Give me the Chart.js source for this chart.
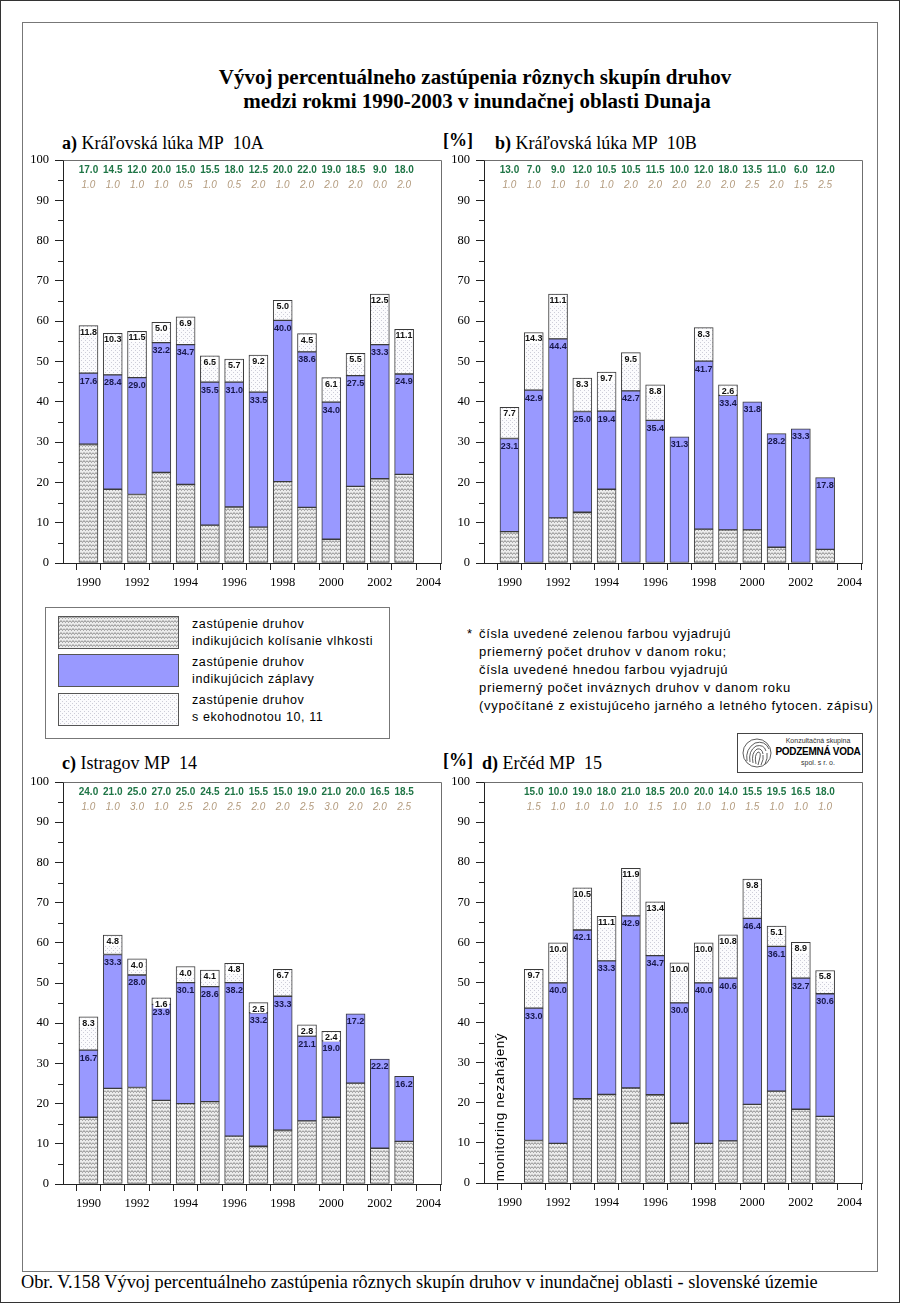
<!DOCTYPE html>
<html>
<head>
<meta charset="utf-8">
<script src="https://cdn.jsdelivr.net/npm/chart.js@4/dist/chart.umd.min.js"></script>
<style>
  body { margin: 0; background: #fff; }
  #page { position: relative; width: 900px; height: 1303px; background: #fff; overflow: hidden; }
  .abs { position: absolute; }
  .serif { font-family: "Liberation Serif", "Times New Roman", serif; color: #000; }
  .sans { font-family: "Liberation Sans", Arial, sans-serif; color: #000; }
  canvas.chart { position: absolute; }
  .lg-text { font-size: 12.5px; letter-spacing: 0.6px; line-height: 17px; }
  .note { font-size: 13px; letter-spacing: 0.7px; line-height: 18px; }
</style>
</head>
<body>
<div id="page">
  <div class="abs" style="left:0;top:0;width:898px;height:1301px;border:1px solid #333;"></div>
  <div class="abs" style="left:22px;top:22px;width:854px;height:1248px;border:1px solid #777;"></div>

  <div class="abs serif" style="left:125px;top:63px;width:700px;text-align:center;font-weight:bold;font-size:21px;line-height:28px;">Vývoj percentuálneho zastúpenia rôznych skupín druhov</div>
  <div class="abs serif" style="left:127px;top:87px;width:700px;text-align:center;font-weight:bold;font-size:21px;line-height:28px;">medzi rokmi 1990-2003 v inundačnej oblasti Dunaja</div>

  <div class="abs serif" style="left:62px;top:132px;font-size:18px;line-height:22px;white-space:nowrap;"><b>a)</b> Kráľovská lúka MP&nbsp; 10A</div>
  <div class="abs serif" style="left:443px;top:129px;font-size:18px;line-height:22px;font-weight:bold;">[%]</div>
  <div class="abs serif" style="left:495px;top:132px;font-size:18px;line-height:22px;white-space:nowrap;"><b>b)</b> Kráľovská lúka MP&nbsp; 10B</div>

  <div class="abs serif" style="left:62px;top:752px;font-size:18px;line-height:22px;white-space:nowrap;"><b>c)</b> Istragov MP&nbsp; 14</div>
  <div class="abs serif" style="left:443px;top:749px;font-size:18px;line-height:22px;font-weight:bold;">[%]</div>
  <div class="abs serif" style="left:482px;top:752px;font-size:18px;line-height:22px;white-space:nowrap;"><b>d)</b> Erčéd MP&nbsp; 15</div>

  <canvas id="chartA" class="chart"></canvas>
  <canvas id="chartB" class="chart"></canvas>
  <canvas id="chartC" class="chart"></canvas>
  <canvas id="chartD" class="chart"></canvas>

  <!-- legend box -->
  <div class="abs" style="left:45px;top:607px;width:343px;height:130px;border:1px solid #777;background:#fff;"></div>
  <canvas id="sw1" class="abs" width="121" height="33" style="left:58px;top:616px;"></canvas>
  <canvas id="sw2" class="abs" width="121" height="33" style="left:58px;top:654px;"></canvas>
  <canvas id="sw3" class="abs" width="121" height="33" style="left:58px;top:693px;"></canvas>
  <div class="abs sans lg-text" style="left:192px;top:616px;white-space:nowrap;">zastúpenie druhov<br>indikujúcich kolísanie vlhkosti</div>
  <div class="abs sans lg-text" style="left:192px;top:654px;white-space:nowrap;">zastúpenie druhov<br>indikujúcich záplavy</div>
  <div class="abs sans lg-text" style="left:192px;top:692px;white-space:nowrap;">zastúpenie druhov<br>s ekohodnotou 10, 11</div>

  <div class="abs sans note" style="left:467px;top:625px;">*</div>
  <div class="abs sans note" style="left:479px;top:625px;white-space:nowrap;">čísla uvedené zelenou farbou vyjadrujú<br>priemerný počet druhov v danom roku;<br>čísla uvedené hnedou farbou vyjadrujú<br>priemerný počet inváznych druhov v danom roku<br>(vypočítané z existujúceho jarného a letného fytocen. zápisu)</div>

  <!-- logo -->
  <div class="abs" style="left:737px;top:733px;width:124px;height:38px;border:1px solid #444;background:#fff;">
    <svg class="abs" style="left:3px;top:3px;" width="32" height="32" viewBox="0 0 32 32">
      <g fill="none" stroke="#333" stroke-width="0.8">
        <circle cx="16" cy="16" r="14"/>
        <path d="M6 24 Q4 12 14 6 Q24 3 28 12"/>
        <path d="M9 25 Q7 14 15 9 Q23 7 25 14"/>
        <path d="M12 26 Q10 16 16 12 Q21 11 22 17"/>
        <path d="M15 27 Q13 18 17 15 Q20 15 19 20 L17 28"/>
        <path d="M20 28 Q23 22 22 18"/>
        <path d="M24 27 Q27 21 26 16"/>
      </g>
    </svg>
    <div class="abs sans" style="left:36px;top:3px;width:88px;text-align:center;font-size:7px;line-height:8px;color:#333;">Konzultačná skupina</div>
    <div class="abs sans" style="left:35px;top:12px;width:90px;text-align:center;font-size:10px;line-height:12px;font-weight:bold;letter-spacing:-0.3px;">PODZEMNÁ VODA</div>
    <div class="abs sans" style="left:36px;top:25px;width:88px;text-align:center;font-size:7px;line-height:8px;color:#333;">spol. s r. o.</div>
  </div>

  <div class="abs sans" style="left:425px;top:1099px;width:150px;height:16px;text-align:center;font-size:13.5px;line-height:16px;letter-spacing:0.6px;transform:rotate(-90deg);">monitoring nezahájený</div>

  <div class="abs serif" style="left:21px;top:1271px;font-size:18.3px;line-height:22px;white-space:nowrap;">Obr. V.158 Vývoj percentuálneho zastúpenia rôznych skupín druhov v inundačnej oblasti - slovenské územie</div>
</div>

<script>
// years on the x axis
const years = [1990, 1991, 1992, 1993, 1994, 1995, 1996, 1997, 1998, 1999, 2000, 2001, 2002, 2003];
const tickYears = [1990, 1991, 1992, 1993, 1994, 1995, 1996, 1997, 1998, 1999, 2000, 2001, 2002, 2003, 2004];

// a) Kralovska luka MP 10A
const aBottom = [29.5, 18.3, 17.0, 22.5, 19.5, 9.4, 13.9, 8.9, 20.2, 13.8, 5.9, 19.0, 20.9, 22.0];
const aMiddle = [17.6, 28.4, 29.0, 32.2, 34.7, 35.5, 31.0, 33.5, 40.0, 38.6, 34.0, 27.5, 33.3, 24.9];
const aTop = [11.8, 10.3, 11.5, 5.0, 6.9, 6.5, 5.7, 9.2, 5.0, 4.5, 6.1, 5.5, 12.5, 11.1];
const aSpecies = [17.0, 14.5, 12.0, 20.0, 15.0, 15.5, 18.0, 12.5, 20.0, 22.0, 19.0, 18.5, 9.0, 18.0];
const aInvasive = [1.0, 1.0, 1.0, 1.0, 0.5, 1.0, 0.5, 2.0, 1.0, 2.0, 2.0, 2.0, 0.0, 2.0];

// b) Kralovska luka MP 10B
const bBottom = [7.8, 0, 11.2, 12.6, 18.3, 0, 0, 0, 8.4, 8.2, 8.2, 3.9, 0, 3.4];
const bMiddle = [23.1, 42.9, 44.4, 25.0, 19.4, 42.7, 35.4, 31.3, 41.7, 33.4, 31.8, 28.2, 33.3, 17.8];
const bTop = [7.7, 14.3, 11.1, 8.3, 9.7, 9.5, 8.8, 0, 8.3, 2.6, 0, 0, 0, 0];
const bSpecies = [13.0, 7.0, 9.0, 12.0, 10.5, 10.5, 11.5, 10.0, 12.0, 18.0, 13.5, 11.0, 6.0, 12.0];
const bInvasive = [1.0, 1.0, 1.0, 1.0, 1.0, 2.0, 2.0, 2.0, 2.0, 2.0, 2.5, 2.0, 1.5, 2.5];

// c) Istragov MP 14
const cBottom = [16.6, 23.8, 24.0, 20.8, 20.0, 20.5, 11.9, 9.4, 13.4, 15.7, 16.6, 25.1, 8.9, 10.6];
const cMiddle = [16.7, 33.3, 28.0, 23.9, 30.1, 28.6, 38.2, 33.2, 33.3, 21.1, 19.0, 17.2, 22.2, 16.2];
const cTop = [8.3, 4.8, 4.0, 1.6, 4.0, 4.1, 4.8, 2.5, 6.7, 2.8, 2.4, 0, 0, 0];
const cSpecies = [24.0, 21.0, 25.0, 27.0, 25.0, 24.5, 21.0, 15.5, 15.0, 19.0, 21.0, 20.0, 16.5, 18.5];
const cInvasive = [1.0, 1.0, 3.0, 1.0, 2.5, 2.0, 2.5, 2.0, 2.0, 2.5, 3.0, 2.0, 2.0, 2.5];

// d) Ercéd MP 15 (no monitoring in 1990)
const dBottom = [null, 10.6, 9.9, 21.0, 22.1, 23.7, 22.0, 14.9, 9.9, 10.5, 19.6, 22.9, 18.4, 16.6];
const dMiddle = [null, 33.0, 40.0, 42.1, 33.3, 42.9, 34.7, 30.0, 40.0, 40.6, 46.4, 36.1, 32.7, 30.6];
const dTop = [null, 9.7, 10.0, 10.5, 11.1, 11.9, 13.4, 10.0, 10.0, 10.8, 9.8, 5.1, 8.9, 5.8];
const dSpecies = [null, 15.0, 10.0, 19.0, 18.0, 21.0, 18.5, 20.0, 20.0, 14.0, 15.5, 19.5, 16.5, 18.0];
const dInvasive = [null, 1.5, 1.0, 1.0, 1.0, 1.0, 1.5, 1.0, 1.0, 1.0, 1.5, 1.0, 1.0, 1.0];

const blue = '#9999ff';
const greenText = '#1f7546';
const brownText = '#b39b7e';

// fill patterns for the two textured segments
function wavePattern() {
  const c = document.createElement('canvas');
  c.width = 6; c.height = 4;
  const g = c.getContext('2d');
  g.fillStyle = '#ececec';
  g.fillRect(0, 0, 6, 4);
  g.strokeStyle = '#8e8e8e';
  g.lineWidth = 1;
  g.beginPath();
  g.moveTo(0, 0.5); g.lineTo(1.5, 2.5); g.lineTo(3, 0.5); g.lineTo(4.5, 2.5); g.lineTo(6, 0.5);
  g.stroke();
  return g.createPattern(c, 'repeat');
}

function dotPattern() {
  const c = document.createElement('canvas');
  c.width = 4; c.height = 4;
  const g = c.getContext('2d');
  g.fillStyle = '#fbfbfd';
  g.fillRect(0, 0, 4, 4);
  g.fillStyle = '#cdcdd8';
  g.fillRect(0, 0, 1, 1);
  g.fillRect(2, 2, 1, 1);
  return g.createPattern(c, 'repeat');
}

const hatch = wavePattern();
const dots = dotPattern();

function fmt(v) {
  return v.toFixed(1);
}

function toPoints(arr) {
  return years.map((yr, i) => ({ x: yr, y: arr[i] ? arr[i] : null }));
}

// frame, minor ticks, numbers above the bars, segment labels
function panelPlugin(species, invasive) {
  return {
    id: 'panelDecor',
    afterDatasetsDraw(chart) {
      const ctx = chart.ctx;
      const area = chart.chartArea;
      const xs = chart.scales.x;
      const ys = chart.scales.y;
      ctx.save();

      ctx.strokeStyle = '#6f6f6f';
      ctx.lineWidth = 1;
      ctx.beginPath();
      ctx.moveTo(Math.round(area.left) + 0.5, Math.round(area.top) + 0.5);
      ctx.lineTo(Math.round(area.right) + 0.5, Math.round(area.top) + 0.5);
      ctx.lineTo(Math.round(area.right) + 0.5, Math.round(area.bottom) + 0.5);
      ctx.stroke();

      // minor ticks every 5 %
      ctx.strokeStyle = '#222';
      ctx.beginPath();
      [5, 15, 25, 35, 45, 55, 65, 75, 85, 95].forEach(v => {
        const py = Math.round(ys.getPixelForValue(v)) + 0.5;
        ctx.moveTo(area.left - 5, py);
        ctx.lineTo(area.left, py);
      });
      ctx.stroke();

      // average species counts
      ctx.textAlign = 'center';
      ctx.textBaseline = 'middle';
      years.forEach((yr, i) => {
        if (species[i] === null) return;
        const px = xs.getPixelForValue(yr);
        ctx.font = 'bold 10px "Liberation Sans", Arial, sans-serif';
        ctx.fillStyle = greenText;
        ctx.fillText(fmt(species[i]), px, area.top + 10);
        ctx.font = 'italic 10px "Liberation Sans", Arial, sans-serif';
        ctx.fillStyle = brownText;
        ctx.fillText(fmt(invasive[i]), px, area.top + 25.5);
      });

      // values written in the segments
      ctx.font = 'bold 9px "Liberation Sans", Arial, sans-serif';
      [1, 2].forEach(d => {
        const meta = chart.getDatasetMeta(d);
        const ds = chart.data.datasets[d];
        meta.data.forEach((bar, i) => {
          const v = ds.data[i].y;
          if (!v) return;
          if (d === 2) {
            ctx.fillStyle = '#fff';
            ctx.fillRect(bar.x - bar.width / 2 + 1.5, bar.y + 1.5, bar.width - 3, 9);
            ctx.fillStyle = '#111';
            ctx.fillText(fmt(v), bar.x, bar.y + 6.5);
          } else {
            ctx.fillStyle = '#17174a';
            ctx.fillText(fmt(v), bar.x, bar.y + 8);
          }
        });
      });
      ctx.restore();
    }
  };
}

function makePanel(id, area, bottom, middle, top, species, invasive) {
  const yAxisW = 42, xAxisH = 34, padTop = 12, padRight = 18;
  const cv = document.getElementById(id);
  cv.width = area.right - area.left + yAxisW + padRight;
  cv.height = area.bottom - area.top + padTop + xAxisH;
  cv.style.left = (area.left - yAxisW) + 'px';
  cv.style.top = (area.top - padTop) + 'px';

  return new Chart(cv.getContext('2d'), {
    type: 'bar',
    data: {
      datasets: [{
        label: 'zastúpenie druhov indikujúcich kolísanie vlhkosti',
        data: toPoints(bottom),
        backgroundColor: hatch
      }, {
        label: 'zastúpenie druhov indikujúcich záplavy',
        data: toPoints(middle),
        backgroundColor: blue
      }, {
        label: 'zastúpenie druhov s ekohodnotou 10, 11',
        data: toPoints(top),
        backgroundColor: dots
      }]
    },
    options: {
      responsive: false,
      animation: false,
      devicePixelRatio: 1,
      layout: { padding: { top: padTop, right: padRight, left: 0, bottom: 0 } },
      datasets: {
        bar: {
          barThickness: 19,
          borderWidth: 1,
          borderColor: '#3a3a3a',
          borderSkipped: false
        }
      },
      scales: {
        x: {
          type: 'linear',
          stacked: true,
          min: 1989.47,
          max: 2004,
          afterBuildTicks: sc => { sc.ticks = tickYears.map(v => ({ value: v })); },
          afterFit: sc => { sc.height = xAxisH; sc.paddingLeft = 0; sc.paddingRight = 0; },
          grid: { drawOnChartArea: false, tickLength: 7, color: '#222' },
          border: { display: true, color: '#222' },
          ticks: {
            autoSkip: false,
            maxRotation: 0,
            padding: 5,
            color: '#000',
            font: { family: '"Liberation Serif", "Times New Roman", serif', size: 12.5 },
            callback: v => (v % 2 === 0 ? String(v) : '')
          }
        },
        y: {
          stacked: true,
          min: 0,
          max: 100,
          afterFit: sc => { sc.width = yAxisW; sc.paddingTop = 0; sc.paddingBottom = 0; },
          grid: { drawOnChartArea: false, tickLength: 8, color: '#222' },
          border: { display: true, color: '#222' },
          ticks: {
            stepSize: 10,
            padding: 6,
            color: '#000',
            font: { family: '"Liberation Serif", "Times New Roman", serif', size: 12.5 }
          }
        }
      },
      plugins: {
        legend: { display: false },
        tooltip: { enabled: false }
      }
    },
    plugins: [panelPlugin(species, invasive)]
  });
}

makePanel('chartA', { left: 63, top: 160, right: 441, bottom: 563 }, aBottom, aMiddle, aTop, aSpecies, aInvasive);
makePanel('chartB', { left: 484, top: 160, right: 862, bottom: 563 }, bBottom, bMiddle, bTop, bSpecies, bInvasive);
makePanel('chartC', { left: 63, top: 782, right: 441, bottom: 1184 }, cBottom, cMiddle, cTop, cSpecies, cInvasive);
makePanel('chartD', { left: 484, top: 782, right: 862, bottom: 1183 }, dBottom, dMiddle, dTop, dSpecies, dInvasive);

// legend swatches
[['sw1', hatch], ['sw2', blue], ['sw3', dots]].forEach(([id, fill]) => {
  const c = document.getElementById(id);
  const g = c.getContext('2d');
  g.fillStyle = fill;
  g.fillRect(0, 0, c.width, c.height);
  g.strokeStyle = '#555';
  g.strokeRect(0.5, 0.5, c.width - 1, c.height - 1);
});
</script>
</body>
</html>
